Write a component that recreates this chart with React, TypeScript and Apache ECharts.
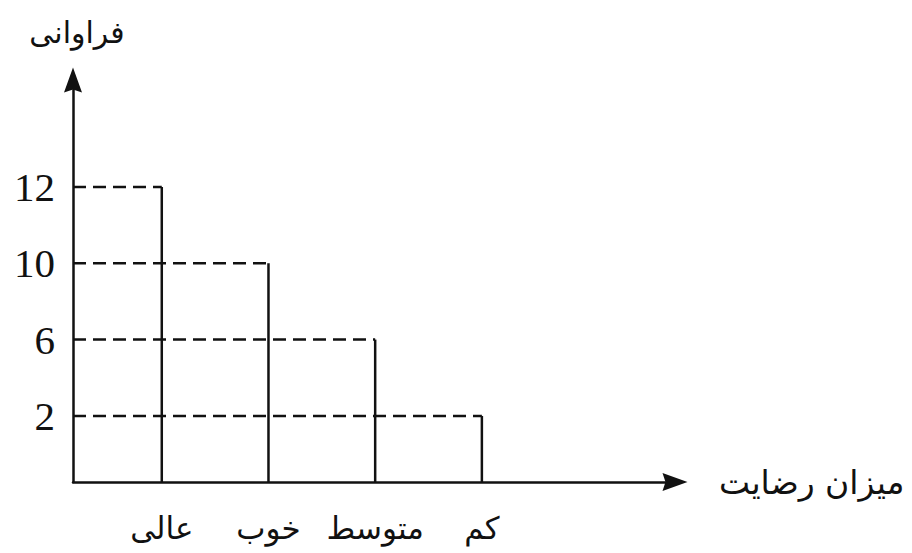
import React, { useEffect, useRef } from "react";
import * as echarts from "echarts";

// Categories along the horizontal axis (satisfaction level)
const categories = ["عالی", "خوب", "متوسط", "کم"];
// Frequency of each category
const frequencies = [12, 10, 6, 2];
// Tick labels shown on the vertical axis (schematic, equally spaced)
const yTickLabels = ["2", "6", "10", "12"];

const xAxisName = "میزان رضایت";
const yAxisName = "فراوانی";

const X_MIN = -0.832;
const X_MAX = 4.81;
const Y_MIN = 0.135;
const Y_MAX = 5.4;

export default function App() {
  const ref = useRef<HTMLDivElement>(null);

  useEffect(() => {
    if (!ref.current) return;
    const chart = echarts.init(ref.current, null, { renderer: "svg" });

    const data = categories.map((c, i) => [
      i,
      yTickLabels.indexOf(String(frequencies[i])) + 1,
    ]);

    const arrow = "path://M0 0L9 25L0 22L-9 25Z";
    const serif = "'Liberation Serif', 'Times New Roman', serif";
    const persian = "'DejaVu Sans', sans-serif";

    chart.setOption({
      animation: false,
      backgroundColor: "#ffffff",
      grid: { left: 73, right: 237, top: 80, bottom: 71, containLabel: false },
      xAxis: {
        type: "value",
        min: X_MIN,
        max: X_MAX,
        name: xAxisName,
        nameLocation: "end",
        nameGap: 44,
        nameTextStyle: {
          fontFamily: persian,
          fontSize: 33,
          color: "#111",
          verticalAlign: "middle",
          lineHeight: 40,
          padding: [0, 0, 40, 0],
        },
        axisLine: {
          onZero: false,
          lineStyle: { color: "#111", width: 2.5 },
          symbol: ["none", arrow],
          symbolSize: [18, 25],
        },
        axisTick: { show: false },
        splitLine: { show: false },
        axisLabel: {
          customValues: [0, 1, 2, 3],
          formatter: (v: number) => categories[Math.round(v)] ?? "",
          fontFamily: persian,
          fontSize: 31,
          color: "#111",
          margin: 30,
        },
      },
      yAxis: {
        type: "value",
        min: Y_MIN,
        max: Y_MAX,
        name: yAxisName,
        nameLocation: "end",
        nameGap: 33,
        nameTextStyle: {
          fontFamily: persian,
          fontSize: 30,
          color: "#111",
          align: "center",
          padding: [0, 0, 0, 8],
        },
        axisLine: {
          onZero: false,
          lineStyle: { color: "#111", width: 2.5 },
          symbol: ["none", arrow],
          symbolSize: [18, 25],
        },
        axisTick: { show: false },
        splitLine: { show: false },
        axisLabel: {
          customValues: [1, 2, 3, 4],
          formatter: (v: number) => yTickLabels[Math.round(v) - 1] ?? "",
          fontFamily: serif,
          fontSize: 41,
          color: "#111",
          margin: 18,
        },
      },
      series: [
        {
          type: "custom",
          data,
          renderItem: (params: any, api: any) => {
            const x = api.value(0);
            const y = api.value(1);
            const top = api.coord([x, y]);
            const base = api.coord([x, Y_MIN]);
            const left = api.coord([X_MIN, y]);
            return {
              type: "group",
              children: [
                {
                  type: "line",
                  shape: { x1: left[0], y1: top[1], x2: top[0], y2: top[1] },
                  style: { stroke: "#111", lineWidth: 2.5, lineDash: [13, 7] },
                },
                {
                  type: "line",
                  shape: { x1: base[0], y1: base[1], x2: top[0], y2: top[1] },
                  style: { stroke: "#111", lineWidth: 2.5 },
                },
              ],
            };
          },
        },
      ],
    });

    return () => chart.dispose();
  }, []);

  return (
    <div
      ref={ref}
      style={{ position: "fixed", left: 0, top: 0, width: 912, height: 553 }}
    />
  );
}
